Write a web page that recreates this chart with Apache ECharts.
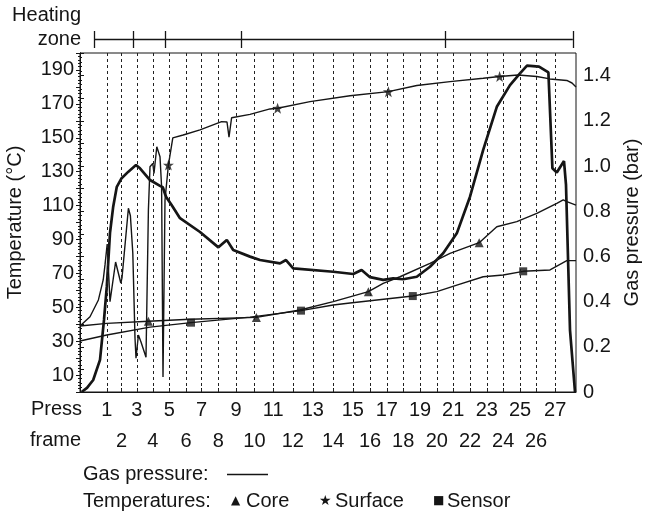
<!DOCTYPE html>
<html>
<head>
<meta charset="utf-8">
<script src="https://cdn.jsdelivr.net/npm/echarts@6/dist/echarts.min.js"></script>
<style>
  html, body { margin: 0; padding: 0; background: #fff; }
  #chart { width: 648px; height: 514px; }
</style>
</head>
<body>
<div id="chart"></div>
<script>
// time axis in arbitrary units (0..124), press frames sit at uneven times
const framePos = [6.7, 10.4, 14.2, 18.2, 22.3, 26.5, 30.4, 34.6, 39, 43.6, 48.3, 53.2, 58.2, 63.3,
    68.2, 72.5, 76.7, 80.8, 85, 89.2, 93.3, 97.5, 101.7, 105.8, 110, 114, 118.8];
const heatingZones = [3.5, 13.4, 21.3, 40.3, 91.25, 123.2];

// temperature ticks (°C) and pressure ticks (bar)
const tempLabels = [10, 30, 50, 70, 90, 110, 130, 150, 170, 190];
const pressLabels = [0, 0.2, 0.4, 0.6, 0.8, 1.0, 1.2, 1.4];

// gas pressure [time, bar]
const gasPressure = [
    [0.4, 0], [1.75, 0.018], [3.3, 0.053], [5, 0.142], [6, 0.319], [6.7, 0.466], [7.5, 0.704],
    [8.3, 0.82], [9.2, 0.908], [10.4, 0.946], [12.1, 0.975], [14, 1.004], [15, 0.99], [17.5, 0.938],
    [20, 0.912], [20.7, 0.906], [21.5, 0.864], [22.9, 0.827], [25, 0.769], [30, 0.708], [34.6, 0.64],
    [36.7, 0.673], [38.3, 0.628], [42.5, 0.599], [45, 0.584], [50, 0.569], [51.5, 0.584],
    [53.3, 0.547], [63.3, 0.532], [68.3, 0.522], [70.4, 0.54], [72.5, 0.508], [75.8, 0.496],
    [78.3, 0.503], [80.8, 0.499], [84.2, 0.51], [87.5, 0.554], [90.8, 0.614], [94.2, 0.702],
    [97.5, 0.864], [100.8, 1.071], [104.2, 1.262], [107.5, 1.358], [110, 1.41], [111.75, 1.444],
    [114.75, 1.44], [117.1, 1.414], [118.1, 0.99], [119.2, 0.971], [121, 1.022], [121.5, 0.916],
    [122.5, 0.274], [123.75, 0]
];

// surface temperature [time, °C]
const surfaceTemp = [
    [0, 38.9], [2.5, 44.4], [4.6, 54.3], [5.8, 66.1], [6.25, 75], [6.8, 87.3], [7.5, 53.3],
    [8.9, 76.7], [10.2, 64.3], [10.5, 67.3], [12.1, 108.4], [12.6, 104], [13.2, 82], [13.75, 31.9],
    [14, 19.9], [14.6, 33.6], [15.25, 29.5], [16.5, 20.5], [17.1, 107.4], [17.5, 132.9],
    [18.2, 134.9], [18.5, 129], [19.2, 144.7], [19.6, 145.7], [20, 138.8], [20.4, 121.1],
    [20.75, 8.8], [21.25, 113.3], [22.1, 133.9], [23.2, 149.9], [25.8, 151.6], [30, 154.6],
    [35.4, 159.5], [36.75, 159.3], [37.25, 150.4], [37.9, 161.8], [42.5, 163.8], [47.5, 167],
    [49.4, 167.4], [57.5, 171.3], [67.5, 174.8], [77.1, 177.2], [84.2, 180.8], [92.5, 183.1],
    [100.8, 185.1], [104.9, 186.1], [109.5, 187], [114.2, 186.1], [117.5, 184.7], [121.7, 183.8],
    [123, 182.3], [124, 180]
];

// core temperature [time, °C]
const coreTemp = [
    [0, 38.9], [6.7, 40.5], [17.1, 41.7], [27.5, 42.9], [44.1, 44], [55, 48.4], [63.3, 53.3],
    [72.1, 59.2], [75.8, 64.1], [80, 68], [87.5, 75.9], [92.5, 81.8], [99.8, 88.1], [104.2, 97.5],
    [109.2, 100.5], [114.2, 105.4], [119.2, 111.3], [120.8, 113.3], [121.7, 112.3], [124, 110.3]
];

// sensor temperature [time, °C]
const sensorTemp = [
    [0, 30.1], [6.7, 33.6], [17.5, 38.3], [27.75, 40.9], [42.5, 44.2], [55.25, 48], [63.3, 51.3],
    [67.5, 52.5], [83.2, 56.6], [89.2, 59.2], [94.2, 63.1], [100.8, 68], [105.8, 69], [110.8, 71.2],
    [117.5, 72], [121.7, 77.5], [124, 77.5]
];

// marker positions on the temperature curves
const coreMarks = [[17.1, 41.7], [44.1, 44], [72.1, 59.2], [99.8, 88.1]];
const surfaceMarks = [[22.1, 133.9], [49.4, 167.4], [77.1, 177.2], [104.9, 186.1]];
const sensorMarks = [[27.75, 40.9], [55.25, 48], [83.2, 56.6], [110.8, 71.2]];

const ink = '#151515';
const font = 'Liberation Sans, Arial, Helvetica, sans-serif';

const oddFrames = framePos.filter((v, i) => i % 2 === 0);
const evenFrames = framePos.filter((v, i) => i % 2 === 1);
const frameNo = v => String(framePos.indexOf(v) + 1);

const myChart = echarts.init(document.getElementById('chart'));

const option = {
    backgroundColor: '#fff',
    animation: false,
    textStyle: { fontFamily: font, color: ink },
    grid: [
        { left: 80, right: 72, top: 53, bottom: 122, show: true, borderColor: ink, borderWidth: 1, outerBoundsMode: 'none' },
        { left: 80, right: 72, top: 31, height: 17, outerBoundsMode: 'none' }
    ],
    xAxis: [
        {
            type: 'value', gridIndex: 0, min: 0, max: 124,
            axisLine: { lineStyle: { color: ink } },
            axisTick: { customValues: framePos, inside: true, length: 4, lineStyle: { color: ink } },
            axisLabel: {
                customValues: oddFrames, showMinLabel: true, showMaxLabel: true, hideOverlap: false,
                color: ink, fontSize: 20, fontFamily: font, margin: 8,
                formatter: frameNo
            },
            splitLine: { show: false }
        },
        { type: 'value', gridIndex: 1, min: 0, max: 124, show: false },
        {
            type: 'value', gridIndex: 0, min: 0, max: 124, position: 'bottom',
            axisLine: { show: false },
            axisTick: { show: false },
            axisLabel: {
                customValues: evenFrames, showMinLabel: true, showMaxLabel: true, hideOverlap: false,
                color: ink, fontSize: 20, fontFamily: font, margin: 39,
                formatter: frameNo
            },
            splitLine: { show: false }
        }
    ],
    yAxis: [
        {
            type: 'value', gridIndex: 0, min: 0, max: 200, interval: 10,
            name: 'Temperature (°C)', nameLocation: 'middle', nameGap: 55,
            nameTextStyle: { fontSize: 20, color: ink, fontFamily: font },
            axisLine: { show: true, lineStyle: { color: ink } },
            axisTick: { show: true, length: 4, lineStyle: { color: ink } },
            minorTick: { show: true, splitNumber: 5, length: 2, lineStyle: { color: ink } },
            axisLabel: {
                color: ink, fontSize: 20, fontFamily: font, margin: 6,
                formatter: v => tempLabels.indexOf(v) >= 0 ? String(v) : ''
            },
            splitLine: { show: false }
        },
        {
            type: 'value', gridIndex: 0, min: 0, max: 1.5, interval: 0.1, position: 'right',
            name: 'Gas pressure (bar)', nameLocation: 'middle', nameGap: 46, nameRotate: 90,
            nameTextStyle: { fontSize: 20, color: ink, fontFamily: font },
            axisLine: { show: true, lineStyle: { color: ink } },
            axisTick: { show: true, length: 4, lineStyle: { color: ink } },
            minorTick: { show: true, splitNumber: 5, length: 2, lineStyle: { color: ink } },
            axisLabel: {
                color: ink, fontSize: 20, fontFamily: font, margin: 7,
                formatter: function (v) {
                    const hit = pressLabels.find(p => Math.abs(p - v) < 1e-6);
                    if (hit === undefined) return '';
                    return hit === 0 ? '0' : hit.toFixed(1);
                }
            },
            splitLine: { show: false }
        },
        { type: 'value', gridIndex: 1, min: 0, max: 1, show: false }
    ],
    graphic: [
        { type: 'text', right: 567, top: 5, style: { text: 'Heating', font: '20px ' + font, fill: ink, textAlign: 'right' } },
        { type: 'text', right: 567, top: 29, style: { text: 'zone', font: '20px ' + font, fill: ink, textAlign: 'right' } },
        { type: 'text', left: 31, top: 399, style: { text: 'Press', font: '20px ' + font, fill: ink } },
        { type: 'text', left: 30, top: 430, style: { text: 'frame', font: '20px ' + font, fill: ink } },
        { type: 'text', left: 83, top: 464, style: { text: 'Gas pressure:', font: '20px ' + font, fill: ink } },
        { type: 'line', shape: { x1: 227, y1: 474.5, x2: 268, y2: 474.5 }, style: { stroke: ink, lineWidth: 1.5 } },
        { type: 'text', left: 83, top: 491, style: { text: 'Temperatures:', font: '20px ' + font, fill: ink } },
        { type: 'text', left: 231, top: 495, style: { text: '▲', font: '12px DejaVu Sans', fill: ink } },
        { type: 'text', left: 246, top: 491, style: { text: 'Core', font: '20px ' + font, fill: ink } },
        { type: 'text', left: 319, top: 494, style: { text: '★', font: '14px DejaVu Sans', fill: ink } },
        { type: 'text', left: 335, top: 491, style: { text: 'Surface', font: '20px ' + font, fill: ink } },
        { type: 'text', left: 433, top: 495, style: { text: '■', font: '12px DejaVu Sans', fill: ink } },
        { type: 'text', left: 447, top: 491, style: { text: 'Sensor', font: '20px ' + font, fill: ink } }
    ],
    series: [
        {
            name: 'Press frames', type: 'line', xAxisIndex: 0, yAxisIndex: 0, data: [],
            markLine: {
                silent: true, symbol: 'none', label: { show: false },
                lineStyle: { color: '#222', type: [3, 3], width: 1 },
                data: framePos.map(v => ({ xAxis: v }))
            }
        },
        {
            name: 'Heating zone', type: 'line', xAxisIndex: 1, yAxisIndex: 2, symbol: 'none',
            lineStyle: { color: ink, width: 1.3 },
            data: [[heatingZones[0], 0.5], [heatingZones[heatingZones.length - 1], 0.5]],
            markLine: {
                silent: true, symbol: 'none', label: { show: false },
                lineStyle: { color: ink, type: 'solid', width: 1.3 },
                data: heatingZones.map(v => ({ xAxis: v }))
            }
        },
        {
            name: 'Sensor', type: 'line', yAxisIndex: 0, symbol: 'none',
            lineStyle: { color: ink, width: 1.4 }, data: sensorTemp
        },
        {
            name: 'Core', type: 'line', yAxisIndex: 0, symbol: 'none',
            lineStyle: { color: ink, width: 1.4 }, data: coreTemp
        },
        {
            name: 'Surface', type: 'line', yAxisIndex: 0, symbol: 'none',
            lineStyle: { color: ink, width: 1.4 }, data: surfaceTemp
        },
        {
            name: 'Gas pressure', type: 'line', yAxisIndex: 1, symbol: 'none',
            lineStyle: { color: ink, width: 2.7 }, data: gasPressure
        },
        {
            name: 'Core marks', type: 'scatter', yAxisIndex: 0, symbol: 'triangle', symbolSize: 9,
            itemStyle: { color: ink }, data: coreMarks
        },
        {
            name: 'Surface marks', type: 'scatter', yAxisIndex: 0,
            symbol: 'path://M0,-10 L2.35,-3.24 L9.51,-3.09 L3.8,1.24 L5.88,8.09 L0,4 L-5.88,8.09 L-3.8,1.24 L-9.51,-3.09 L-2.35,-3.24 Z',
            symbolSize: 11, itemStyle: { color: ink }, data: surfaceMarks
        },
        {
            name: 'Sensor marks', type: 'scatter', yAxisIndex: 0, symbol: 'rect', symbolSize: 8,
            itemStyle: { color: ink }, data: sensorMarks
        }
    ]
};

myChart.setOption(option);

window.addEventListener('resize', () => {
    myChart.resize();
});
</script>
</body>
</html>
